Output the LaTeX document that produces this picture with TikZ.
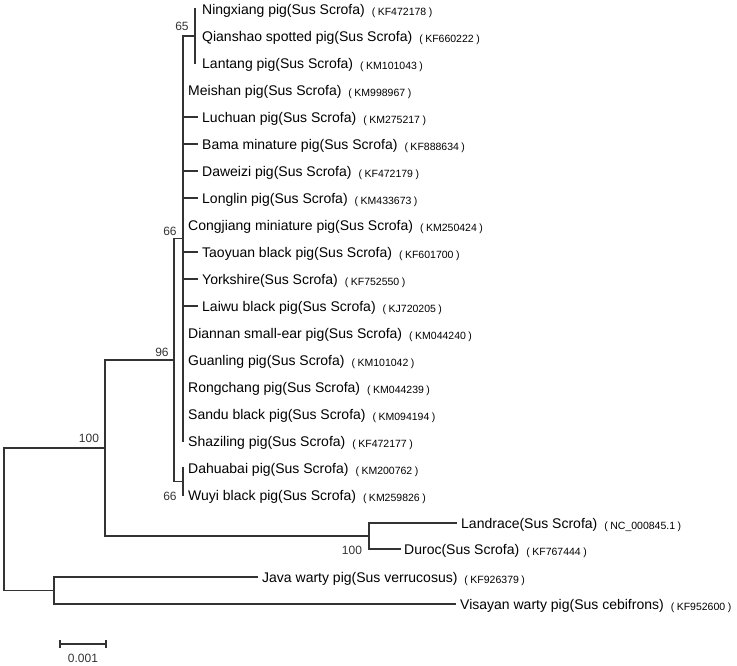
\documentclass[tikz,border=0pt]{standalone}
\usepackage{fontspec}
\setmainfont{Liberation Sans}
\newcommand{\acc}[1]{\hspace{7pt}\raisebox{-1pt}{\fontsize{10.5}{12}\selectfont(\hspace{2.5pt}#1\hspace{2.5pt})}}
\begin{document}
\begin{tikzpicture}[x=1pt,y=-1pt,
  br/.style={line width=1.2pt, draw=black!80, line cap=rect, line join=miter},
  leaf/.style={anchor=base west, inner sep=0pt, font=\fontsize{14}{16}\selectfont},
  boot/.style={inner sep=0pt, font=\fontsize{12}{14}\selectfont, text=black!80},
]
\useasboundingbox (0,0) rectangle (737,665);
% internal nodes
\coordinate (root) at (4,519.25);
\coordinate (n100) at (105,448);
\coordinate (n96) at (174,360);
\coordinate (nA) at (183,238.5);
\coordinate (n65) at (195,36);
\coordinate (nB) at (183,481.5);
\coordinate (nLD) at (369,536);
\coordinate (nOut) at (54,590.5);
% leaf tips
\coordinate (p0) at (195,9);
\coordinate (p1) at (195,36);
\coordinate (p2) at (195,63);
\coordinate (p3) at (183,90);
\coordinate (p4) at (197,117);
\coordinate (p5) at (197,144);
\coordinate (p6) at (197,171);
\coordinate (p7) at (197,198);
\coordinate (p8) at (183,225);
\coordinate (p9) at (197,252);
\coordinate (p10) at (197,279);
\coordinate (p11) at (197,306);
\coordinate (p12) at (183,333);
\coordinate (p13) at (183,360);
\coordinate (p14) at (183,387);
\coordinate (p15) at (183,414);
\coordinate (p16) at (183,441);
\coordinate (p17) at (183,468);
\coordinate (p18) at (183,495);
\coordinate (p19) at (456,523);
\coordinate (p20) at (400,549);
\coordinate (p21) at (257,577);
\coordinate (p22) at (455,604);
% branches
\draw[br] (root) |- (n100);
\draw[br] (root) |- (nOut);
\draw[br] (n100) |- (n96);
\draw[br] (n100) |- (nLD);
\draw[br] (n96) |- (nA);
\draw[br] (n96) |- (nB);
\draw[br] (nA) |- (n65);
\foreach \i in {3,...,16} {\draw[br] (nA) |- (p\i);}
\foreach \i in {0,1,2} {\draw[br] (n65) |- (p\i);}
\draw[br] (nB) |- (p17);
\draw[br] (nB) |- (p18);
\draw[br] (nLD) |- (p19);
\draw[br] (nLD) |- (p20);
\draw[br] (nOut) |- (p21);
\draw[br] (nOut) |- (p22);
% leaf labels
\node[leaf] (t0) at (202,14.3) {Ningxiang pig(Sus Scrofa)\acc{KF472178}};
\node[leaf] (t1) at (202,41.3) {Qianshao spotted pig(Sus Scrofa)\acc{KF660222}};
\node[leaf] (t2) at (202,68.3) {Lantang pig(Sus Scrofa)\acc{KM101043}};
\node[leaf] (t3) at (188,95.3) {Meishan pig(Sus Scrofa)\acc{KM998967}};
\node[leaf] (t4) at (202,122.3) {Luchuan pig(Sus Scrofa)\acc{KM275217}};
\node[leaf] (t5) at (202,149.3) {Bama minature pig(Sus Scrofa)\acc{KF888634}};
\node[leaf] (t6) at (202,176.3) {Daweizi pig(Sus Scrofa)\acc{KF472179}};
\node[leaf] (t7) at (202,203.3) {Longlin pig(Sus Scrofa)\acc{KM433673}};
\node[leaf] (t8) at (188,230.3) {Congjiang miniature pig(Sus Scrofa)\acc{KM250424}};
\node[leaf] (t9) at (202,257.3) {Taoyuan black pig(Sus Scrofa)\acc{KF601700}};
\node[leaf] (t10) at (202,284.3) {Yorkshire(Sus Scrofa)\acc{KF752550}};
\node[leaf] (t11) at (202,311.3) {Laiwu black pig(Sus Scrofa)\acc{KJ720205}};
\node[leaf] (t12) at (188,338.3) {Diannan small-ear pig(Sus Scrofa)\acc{KM044240}};
\node[leaf] (t13) at (188,365.3) {Guanling pig(Sus Scrofa)\acc{KM101042}};
\node[leaf] (t14) at (188,392.3) {Rongchang pig(Sus Scrofa)\acc{KM044239}};
\node[leaf] (t15) at (188,419.3) {Sandu black pig(Sus Scrofa)\acc{KM094194}};
\node[leaf] (t16) at (188,446.3) {Shaziling pig(Sus Scrofa)\acc{KF472177}};
\node[leaf] (t17) at (188,473.3) {Dahuabai pig(Sus Scrofa)\acc{KM200762}};
\node[leaf] (t18) at (188,500.3) {Wuyi black pig(Sus Scrofa)\acc{KM259826}};
\node[leaf] (t19) at (461,528.3) {Landrace(Sus Scrofa)\acc{NC\_000845.1}};
\node[leaf] (t20) at (404,554.3) {Duroc(Sus Scrofa)\acc{KF767444}};
\node[leaf] (t21) at (262,582.3) {Java warty pig(Sus verrucosus)\acc{KF926379}};
\node[leaf] (t22) at (460,609.3) {Visayan warty pig(Sus cebifrons)\acc{KF952600}};
% bootstrap values
\node[boot] (b65) at (182,26) {65};
\node[boot] (b66a) at (170,231) {66};
\node[boot] (b96) at (162,352) {96};
\node[boot] (b100a) at (89,438) {100};
\node[boot] (b66b) at (170,496) {66};
\node[boot] (b100b) at (352,550) {100};
% scale bar
\coordinate (s1) at (60,644);
\coordinate (s2) at (106,644);
\draw[br, line cap=butt] (s1) -- (s2);
\draw[br, line cap=butt] ([yshift=-4pt]s1) -- ([yshift=4pt]s1);
\draw[br, line cap=butt] ([yshift=-4pt]s2) -- ([yshift=4pt]s2);
\node[boot] (sl) at (83,658) {0.001};
\end{tikzpicture}
\end{document}
